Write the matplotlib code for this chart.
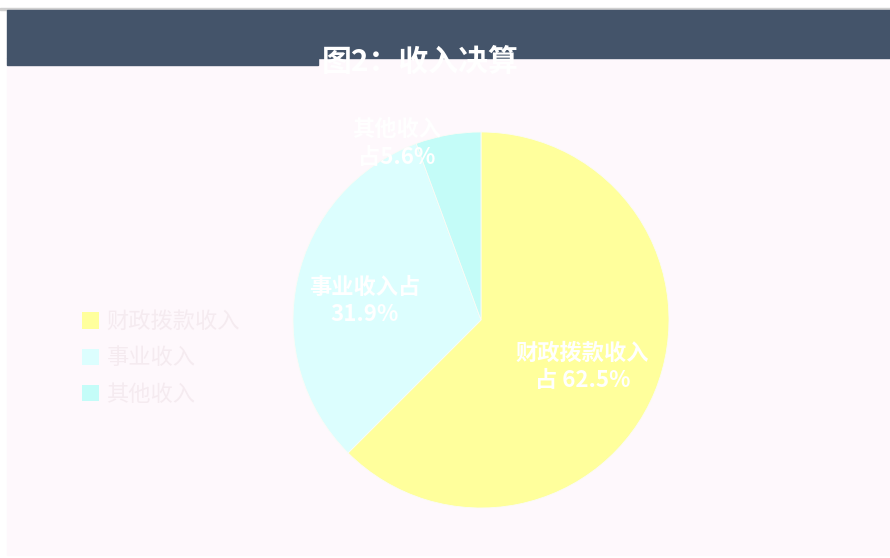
import matplotlib.pyplot as plt
from matplotlib.patches import Rectangle, Patch

plt.rcParams['font.family'] = ['Noto Sans CJK SC', 'DejaVu Sans']

# datos del grafico
categorias = ["财政拨款收入", "事业收入", "其他收入"]
porcentajes = [62.5, 31.9, 5.6]
etiquetas = ["财政拨款收入\n占 62.5%", "事业收入占\n31.9%", "其他收入\n占5.6%"]
colores = ["#ffff9c", "#dcfefe", "#c4fcf8"]
titulo = "图2：收入决算"

W, H = 890, 558
fig = plt.figure(figsize=(W / 100, H / 100), dpi=100)
fig.patch.set_facecolor("white")

# fondo y banda del titulo (coordenadas en pixeles)
def rect(x0, y0, x1, y1, color):
    fig.patches.append(Rectangle((x0 / W, 1 - y1 / H), (x1 - x0) / W, (y1 - y0) / H,
                                 transform=fig.transFigure, color=color, zorder=-2))

rect(0, 8, W, 10, "#d0d0d0")
rect(7, 58, W, 555, "#fef8fc")
rect(7, 10, W, 58, "#44546a")
rect(7, 58, 318, 65, "#44546a")
fig.text(420 / W, 1 - 62 / H, titulo, color="white", fontsize=21.5, fontweight="bold",
         ha="center", va="center", zorder=3)

cx, cy, r = 481, 320, 188
ax = fig.add_axes([(cx - r) / W, 1 - (cy + r) / H, 2 * r / W, 2 * r / H])
ax.set_zorder(1)
ax.patch.set_alpha(0)
ax.set_aspect("equal")
cunas, textos = ax.pie(porcentajes, colors=colores, startangle=90, counterclock=False,
                       labels=etiquetas, labeldistance=0.6,
                       wedgeprops=dict(linewidth=0.6, edgecolor="#fbfbf6"),
                       textprops=dict(color="white", fontsize=16, fontweight="bold",
                                      ha="center", va="center", linespacing=1.25))
pos = [(0.54, -0.25), (-0.62, 0.10), (-0.45, 0.94)]
for t, p in zip(textos, pos):
    t.set_position(p)
    t.set_ha("center")
    t.set_zorder(5)
    t.set_clip_on(False)
ax.set_xlim(-1, 1)
ax.set_ylim(-1, 1)
ax.axis("off")

manijas = [Patch(facecolor=c, edgecolor="none") for c in colores]
ley = fig.legend(manijas, categorias, loc="center left",
                 bbox_to_anchor=(62 / W, 1 - 358 / H), frameon=False,
                 fontsize=16, handlelength=0.75, handleheight=0.75,
                 labelspacing=0.6, handletextpad=0.35)
for t in ley.get_texts():
    t.set_color("#f5ebf0")

fig.savefig("out.png", dpi=100)
